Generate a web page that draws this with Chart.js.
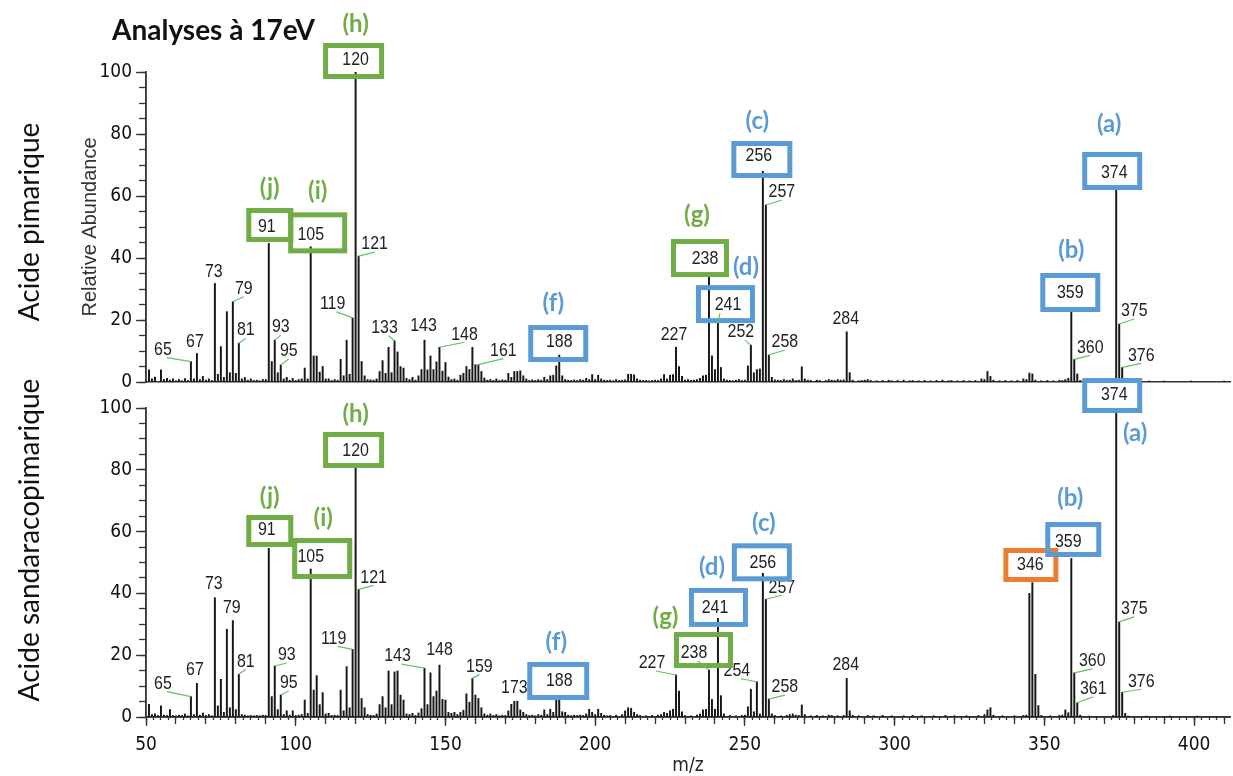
<!DOCTYPE html>
<html>
<head>
<meta charset="utf-8">
<title>Analyses à 17eV</title>
<script src="https://cdn.jsdelivr.net/npm/chart.js@4.4.1/dist/chart.umd.min.js"></script>
<style>
  html, body { margin: 0; padding: 0; background: #fff; }
  #wrap { position: relative; width: 1233px; height: 776px; }
  #wrap canvas { position: absolute; left: 0; top: 0; }
</style>
</head>
<body>
<div id="wrap">
  <canvas id="topChart" width="1233" height="400"></canvas>
  <canvas id="bottomChart" width="1233" height="776"></canvas>
</div>
<script>
// [m/z, relative abundance]
const pimarique = [
  [51,3.9],[52,1.0],[53,1.6],[55,3.9],[56,0.8],[57,1.2],[58,0.6],[59,1.0],[60,0.4],[61,0.8],
  [62,0.4],[63,1.1],[64,0.5],[65,6.6],[66,1.0],[67,9.2],[68,0.8],[69,1.8],[70,0.6],[71,1.0],
  [72,0.5],[73,31.8],[74,2.5],[75,11.4],[76,1.5],[77,22.7],[78,3.0],[79,25.9],[80,2.8],[81,12.5],
  [82,1.0],[83,1.5],[84,0.6],[85,1.0],[86,0.5],[87,0.6],[88,0.4],[89,0.8],[90,0.8],[91,44.7],
  [92,6.6],[93,13.5],[94,3.0],[95,5.5],[96,1.0],[97,1.5],[98,0.6],[99,1.2],[100,0.5],[101,0.8],
  [102,1.0],[103,4.5],[104,1.0],[105,43.6],[106,8.4],[107,8.4],[108,3.2],[109,5.0],[110,1.0],[111,1.0],
  [112,0.5],[113,0.8],[114,0.6],[115,7.3],[116,2.0],[117,13.5],[118,2.5],[119,20.7],[120,100],[121,40.6],
  [122,6.6],[123,2.0],[124,0.8],[125,0.7],[126,0.6],[127,1.0],[128,3.4],[129,6.9],[130,2.8],[131,11.2],
  [132,3.0],[133,13.3],[134,9.7],[135,5.0],[136,4.5],[137,1.2],[138,0.8],[139,1.5],[140,0.6],[141,2.0],
  [142,4.0],[143,13.5],[144,3.9],[145,8.4],[146,4.0],[147,6.5],[148,11.2],[149,3.5],[150,6.3],[151,1.6],
  [152,0.8],[153,1.0],[154,0.6],[155,2.2],[156,2.8],[157,5.0],[158,4.0],[159,11.2],[160,5.6],[161,5.6],
  [162,3.4],[163,1.3],[164,0.6],[165,0.8],[166,0.5],[167,1.0],[168,0.5],[169,0.7],[170,0.6],[171,2.8],
  [172,1.5],[173,3.4],[174,3.4],[175,3.6],[176,2.0],[177,1.0],[178,0.5],[179,0.7],[180,0.5],[181,0.8],
  [182,0.6],[183,1.5],[184,0.8],[185,2.0],[186,2.2],[187,5.2],[188,8.7],[189,2.0],[190,0.8],[191,0.6],
  [192,0.5],[193,0.7],[194,0.5],[195,0.8],[196,0.6],[197,1.2],[198,0.8],[199,2.4],[200,0.8],[201,2.2],
  [202,1.0],[203,0.6],[204,0.5],[205,0.6],[206,0.4],[207,0.8],[208,0.5],[209,0.6],[210,0.7],[211,2.5],
  [212,2.5],[213,2.3],[214,1.0],[215,0.6],[216,0.5],[217,0.5],[218,0.4],[219,0.5],[220,0.6],[221,0.5],
  [222,1.0],[223,2.4],[224,1.0],[225,2.2],[226,2.4],[227,11.2],[228,5.0],[229,1.8],[230,0.6],[231,0.8],
  [232,0.5],[233,0.6],[234,0.8],[235,1.2],[236,2.0],[237,2.2],[238,34.5],[239,8.4],[240,4.0],[241,19],
  [242,4.7],[243,1.0],[244,0.6],[245,0.5],[246,0.4],[247,0.6],[248,0.8],[249,0.5],[250,0.6],[251,5.2],
  [252,11.9],[253,3.0],[254,4.0],[255,4.2],[256,68],[257,57.1],[258,8.7],[259,1.5],[260,0.7],[261,0.6],
  [262,0.5],[263,0.8],[264,0.5],[265,0.6],[266,1.0],[267,0.5],[268,0.6],[269,4.9],[270,1.0],[271,0.6],
  [272,0.5],[274,0.6],[275,0.5],[277,0.5],[278,0.8],[279,0.6],[280,0.5],[281,0.8],[282,0.6],[283,0.7],
  [284,16.2],[285,3.0],[286,0.6],[288,0.4],[289,0.5],[290,0.6],[291,0.8],[292,0.5],[294,0.4],[296,0.5],
  [298,0.6],[299,0.4],[301,0.5],[303,0.6],[305,0.4],[306,0.5],[308,0.4],[310,0.5],[312,0.4],[314,0.5],
  [316,0.6],[318,0.4],[319,0.5],[321,0.4],[323,0.5],[325,0.4],[327,0.5],[329,1.0],[330,0.8],[331,3.4],
  [332,1.8],[333,0.6],[335,0.4],[337,0.5],[339,0.4],[341,0.5],[343,1.0],[344,0.8],[345,2.9],[346,2.6],
  [347,0.6],[349,0.4],[351,0.5],[353,0.4],[355,0.6],[356,0.5],[357,0.8],[358,1.2],[359,23],[360,7.3],
  [361,2.6],[362,0.5],[364,0.3],[373,0.6],[374,62],[375,18.7],[376,4.7],[377,1.2],[378,0.4],[385,0.3],
  [390,0.3],[399,0.3],[410,0.3]
];

const sandaracopimarique = [
  [51,4.1],[52,0.8],[53,1.0],[54,0.5],[55,3.6],[56,0.6],[57,0.5],[58,2.4],[59,0.5],[60,0.4],
  [61,0.6],[62,0.5],[63,1.0],[64,0.4],[65,6.6],[66,0.8],[67,10.9],[68,0.6],[69,1.3],[70,0.5],
  [71,0.8],[72,0.4],[73,38.6],[74,3.6],[75,12.2],[76,1.5],[77,28.4],[78,3.0],[79,31.2],[80,2.4],
  [81,13.8],[82,0.8],[83,0.6],[84,0.4],[85,0.5],[86,0.4],[87,0.5],[88,0.4],[89,0.6],[90,0.5],
  [91,54.6],[92,6.6],[93,16.5],[94,2.4],[95,7.1],[96,0.8],[97,2.0],[98,0.6],[99,2.0],[100,0.5],
  [101,0.6],[102,0.8],[103,5.5],[104,1.2],[105,47.9],[106,8.7],[107,13.4],[108,4.0],[109,7.9],[110,1.0],
  [111,1.2],[112,0.5],[113,0.6],[114,0.5],[115,8.7],[116,2.0],[117,16.3],[118,3.0],[119,21.9],[120,81],
  [121,41.3],[122,6.0],[123,3.0],[124,0.8],[125,0.6],[126,0.5],[127,1.0],[128,4.0],[129,6.6],[130,3.0],
  [131,14.9],[132,4.0],[133,14.6],[134,14.9],[135,7.1],[136,5.5],[137,1.0],[138,0.8],[139,1.2],[140,0.5],
  [141,1.3],[142,2.7],[143,15.8],[144,4.0],[145,14.3],[146,6.6],[147,8.4],[148,16.8],[149,5.7],[150,5.5],
  [151,1.5],[152,1.2],[153,1.5],[154,0.8],[155,1.5],[156,2.2],[157,7.5],[158,4.8],[159,12.5],[160,7.1],
  [161,6.0],[162,3.0],[163,1.0],[164,0.6],[165,1.0],[166,0.5],[167,0.8],[168,0.4],[169,0.6],[170,0.5],
  [171,2.0],[172,4.1],[173,5.1],[174,5.1],[175,2.3],[176,1.5],[177,0.8],[178,0.5],[179,0.6],[180,0.4],
  [181,0.8],[182,0.6],[183,2.3],[184,0.8],[185,2.5],[186,1.5],[187,5.5],[188,6.0],[189,1.7],[190,1.5],
  [191,0.6],[192,0.4],[193,0.6],[194,0.5],[195,0.6],[196,0.5],[197,1.0],[198,2.5],[199,1.5],[200,0.8],
  [201,2.5],[202,1.2],[203,0.6],[204,0.4],[205,0.5],[207,0.6],[209,0.8],[210,2.0],[211,3.0],[212,2.8],
  [213,1.5],[214,0.8],[215,0.5],[217,0.4],[219,0.5],[221,0.6],[222,0.8],[223,1.5],[224,1.2],[225,2.0],
  [226,2.5],[227,13.6],[228,8.4],[229,1.7],[230,0.5],[232,0.4],[234,0.6],[235,1.0],[236,2.3],[237,2.5],
  [238,15.2],[239,5.7],[240,2.5],[241,31.9],[242,6.9],[243,1.0],[245,0.5],[247,0.4],[249,0.5],[250,0.6],
  [251,3.3],[252,9.0],[253,1.7],[254,11.4],[255,1.0],[256,46.5],[257,38.1],[258,5.8],[259,1.0],[260,0.5],
  [262,0.4],[264,0.5],[265,0.8],[266,1.0],[267,0.6],[268,0.5],[269,3.9],[270,0.8],[272,0.4],[274,0.5],
  [276,0.4],[278,0.6],[279,0.5],[281,0.4],[283,0.5],[284,12.5],[285,2.0],[286,0.5],[288,0.4],[291,0.5],
  [293,0.4],[296,0.5],[299,0.4],[303,0.4],[306,0.5],[309,0.4],[313,0.4],[317,0.5],[320,0.4],[324,0.4],
  [328,0.5],[330,0.8],[331,2.3],[332,3.0],[333,0.6],[336,0.4],[340,0.4],[343,0.5],[344,0.6],[345,40.0],
  [346,43.5],[347,13.8],[348,3.7],[349,0.5],[352,0.4],[355,0.5],[356,0.6],[357,2.3],[358,1.4],[359,51.3],
  [360,14.3],[361,4.6],[362,0.6],[365,0.3],[373,0.5],[374,100],[375,30.8],[376,8.0],[377,1.2],[378,0.3],
  [384,0.3],[392,0.3],[401,0.3]
];

// axis limits and tick steps
const mzRange = [50, 412];
const abundanceRange = [0, 100];
const mzLabelStep = 50, mzMidStep = 10, mzMinorStep = 2.5;
const abLabelStep = 20, abMinorStep = 5;

// peak labels: [m/z, offset x, offset y, leader line]
const topLabels = [
  [65,-28,-12,1],[67,-2,-12,0],[73,-1,-12,0],[79,11,-13,1],[81,7,-13,1],[93,6,-13,1],[95,8,-14,1],
  [119,-20,-14,1],[121,16,-12,1],[133,-10,-13,1],[143,-1,-14,0],[148,25,-13,1],[161,25,-14,1],
  [227,-2,-13,0],[252,-10,-13,1],[257,16,-13,1],[258,16,-13,1],[284,-1,-13,0],[360,16,-12,1],
  [375,15,-13,1],[376,19,-12,1]
];
const bottomLabels = [
  [65,-28,-13,1],[67,-2,-14,0],[73,-1,-14,0],[79,-1,-13,0],[81,7,-13,1],[93,12,-11,1],[95,8,-12,1],
  [119,-19,-11,1],[121,15,-12,1],[143,-27,-12,1],[148,0,-15,0],[159,7,-12,1],[173,0,-13,0],
  [227,-24,-12,1],[254,-20,-11,1],[257,16,-12,1],[258,16,-12,1],[284,-1,-14,0],[360,18,-12,1],
  [361,16,-14,1],[375,15,-13,1],[376,19,-11,1]
];

const GREEN = '#70ad47', BLUE = '#5b9bd5', ORANGE = '#ed7d31';
const LEAD = '#5ec45e', INK = '#161616';
const NARROW = "'Liberation Sans Narrow', 'Arial Narrow', 'DejaVu Sans Condensed', sans-serif";

// highlighted peaks: box centre (bx, by) and text (tx, ty) relative to the peak top, letter relative to box
const topBoxes = [
  { mz: 120, color: GREEN, letter: '(h)', bx: -2, by: -11, bw: 61, bh: 36, tx: 0, ty: -12, lx: 2, ly: -37 },
  { mz: 91, color: GREEN, letter: '(j)', bx: 1, by: -18.4, bw: 47, bh: 34, tx: -2, ty: -16.4, lx: 0, ly: -37 },
  { mz: 105, color: GREEN, letter: '(i)', bx: 7, by: -14, bw: 59, bh: 41, tx: 0, ty: -12, lx: 0, ly: -42 },
  { mz: 188, color: BLUE, letter: '(f)', bx: -1, by: -11.5, bw: 60, bh: 37, tx: 0, ty: -13, lx: -5, ly: -40 },
  { mz: 238, color: GREEN, letter: '(g)', bx: -9, by: -17, bw: 58, bh: 38, tx: -4, ty: -16, lx: -3, ly: -43 },
  { mz: 241, color: BLUE, letter: '(d)', bx: 7.5, by: -19, bw: 59, bh: 38, tx: 10, ty: -18, lx: 20.5, ly: -37, lead: true },
  { mz: 256, color: BLUE, letter: '(c)', bx: -1, by: -11.7, bw: 61, bh: 37, tx: -4, ty: -15, lx: -4.5, ly: -38.5 },
  { mz: 359, color: BLUE, letter: '(b)', bx: -1, by: -18.2, bw: 60, bh: 39, tx: -1, ty: -17.7, lx: 1, ly: -42.5 },
  { mz: 374, color: BLUE, letter: '(a)', bx: -4, by: -18.8, bw: 60, bh: 38, tx: -2, ty: -16.8, lx: -3, ly: -47 }
];
const bottomBoxes = [
  { mz: 120, color: GREEN, letter: '(h)', bx: -2, by: -16.7, bw: 61, bh: 36, tx: 0, ty: -15.7, lx: 2, ly: -36 },
  { mz: 91, color: GREEN, letter: '(j)', bx: 1, by: -17.3, bw: 47, bh: 32, tx: -2, ty: -18.3, lx: 0, ly: -34 },
  { mz: 105, color: GREEN, letter: '(i)', bx: 11.5, by: -10.5, bw: 60, bh: 41, tx: 0, ty: -12, lx: 1, ly: -40 },
  { mz: 188, color: BLUE, letter: '(f)', bx: -1, by: -17.5, bw: 62, bh: 38, tx: 0, ty: -17.5, lx: -2, ly: -39 },
  { mz: 238, color: GREEN, letter: '(g)', bx: -5.5, by: -20, bw: 59, bh: 36, tx: -15, ty: -17, lx: -38, ly: -33, lead: true },
  { mz: 241, color: BLUE, letter: '(d)', bx: 0.5, by: -11, bw: 59, bh: 39, tx: -3, ty: -11, lx: -6.5, ly: -40.5 },
  { mz: 256, color: BLUE, letter: '(c)', bx: -1, by: -11, bw: 60, bh: 38, tx: 0, ty: -11, lx: 2, ly: -39 },
  { mz: 346, color: ORANGE, letter: '', bx: -1.5, by: -17.6, bw: 55, bh: 34, tx: -2, ty: -17.6, lx: 0, ly: 0 },
  { mz: 359, color: BLUE, letter: '(b)', bx: 2, by: -19, bw: 56, bh: 35, tx: -3, ty: -16.8, lx: -3, ly: -41.5 },
  { mz: 374, color: BLUE, letter: '(a)', bx: -4, by: -12.5, bw: 60, bh: 35, tx: -2, ty: -13, lx: 23, ly: 37.5, fill: true }
];

// peak numbers: Arial metrics squeezed to look like the narrow instrument font
function drawNumber(ctx, text, x, y) {
  ctx.save();
  ctx.translate(x, y);
  ctx.scale(0.84, 1);
  ctx.font = "19px 'Liberation Sans', Arial, sans-serif";
  ctx.fillStyle = '#222';
  ctx.textAlign = 'center';
  ctx.textBaseline = 'middle';
  ctx.fillText(text, 0, 0);
  ctx.restore();
}

// draws peak numbers, coloured boxes and free text over a chart
function makeNotes(cfg) {
  return {
    id: 'peakNotes',
    afterDraw(chart) {
      const ctx = chart.ctx;
      const xs = chart.scales.x, ys = chart.scales.y;
      const lookup = new Map(cfg.peaks);
      const top = mz => ({ x: xs.getPixelForValue(mz), y: ys.getPixelForValue(lookup.get(mz) || 0) });
      ctx.save();
      ctx.textAlign = 'center';
      ctx.textBaseline = 'middle';

      const leader = (x1, y1, x2, y2) => {
        ctx.strokeStyle = LEAD;
        ctx.lineWidth = 1.2;
        ctx.beginPath();
        ctx.moveTo(x1, y1);
        ctx.lineTo(x2, y2);
        ctx.stroke();
      };

      cfg.labels.forEach(([mz, dx, dy, lead]) => {
        const p = top(mz);
        const lx = p.x + dx, ly = p.y + dy;
        if (lead) leader(p.x, p.y, lx + (dx < 0 ? 4 : 0), ly + 8);
        drawNumber(ctx, String(mz), lx, ly);
      });

      cfg.boxes.forEach(b => {
        const p = top(b.mz);
        const cx = p.x + b.bx, cy = p.y + b.by;
        const w = b.bw - 5, h = b.bh - 5;
        if (b.fill) {
          ctx.fillStyle = '#fff';
          ctx.fillRect(cx - w / 2, cy - h / 2, w, h);
        }
        ctx.lineWidth = 5;
        ctx.strokeStyle = b.color;
        ctx.strokeRect(cx - w / 2, cy - h / 2, w, h);
        if (b.lead) leader(p.x, p.y, p.x + b.tx + (b.tx < 0 ? 4 : -8), p.y + b.ty + 8);
        drawNumber(ctx, String(b.mz), p.x + b.tx, p.y + b.ty);
        if (b.letter) {
          ctx.font = 'bold 24px Lato';
          ctx.fillStyle = b.color;
          ctx.textAlign = 'center';
          ctx.fillText(b.letter, cx + b.lx, cy + b.ly);
        }
      });

      (cfg.texts || []).forEach(t => {
        ctx.save();
        ctx.translate(t.x, t.y);
        ctx.rotate(t.rot || 0);
        ctx.font = t.font;
        ctx.fillStyle = '#111';
        ctx.textAlign = t.align || 'center';
        ctx.fillText(t.text, 0, 0);
        ctx.restore();
      });
      ctx.restore();
    }
  };
}

const tickFont = { family: NARROW, size: 19 };

function yScales(withTitle) {
  return {
    y: {
      position: 'left', weight: 1,
      min: abundanceRange[0], max: abundanceRange[1],
      afterFit: s => { s.width = 72; },
      ticks: { stepSize: abLabelStep, font: tickFont, color: '#111', padding: 4 },
      grid: { drawOnChartArea: false, tickLength: 10, tickColor: '#333', tickWidth: 1.3 },
      border: { color: '#333', width: 1.6 },
      title: {
        display: withTitle, text: 'Relative Abundance', color: '#333',
        font: { family: "'Liberation Sans', Arial, sans-serif", size: 20 },
        padding: { top: 4, bottom: 0 }
      }
    },
    yMinor: {
      position: 'left', weight: 0,
      min: abundanceRange[0], max: abundanceRange[1],
      afterFit: s => { s.width = 0; },
      ticks: { display: false, stepSize: abMinorStep },
      grid: { drawOnChartArea: false, tickLength: 7, tickColor: '#333', tickWidth: 1.3 },
      border: { color: '#333', width: 1.6 }
    }
  };
}

function barData(list) {
  return {
    datasets: [{
      data: list.map(([mz, ab]) => ({ x: mz, y: ab })),
      backgroundColor: INK,
      borderWidth: 0,
      barThickness: 1.3,
      grouped: false
    }]
  };
}

const common = {
  responsive: false,
  animation: false,
  events: [],
  plugins: { legend: { display: false }, tooltip: { enabled: false } }
};

// upper spectrum: acide pimarique
new Chart(document.getElementById('topChart'), {
  type: 'bar',
  data: barData(pimarique),
  options: {
    ...common,
    layout: { padding: { top: 72, left: 74, right: 3, bottom: 0 } },
    scales: {
      x: {
        type: 'linear', position: 'bottom', offset: false,
        min: mzRange[0], max: mzRange[1],
        afterFit: s => { s.height = 18; },
        ticks: { display: false, stepSize: mzLabelStep },
        grid: { offset: false, drawOnChartArea: false, drawTicks: false },
        border: { color: '#333', width: 1.6 }
      },
      ...yScales(true)
    }
  },
  plugins: [makeNotes({
    peaks: pimarique, labels: topLabels, boxes: topBoxes,
    texts: [
      { text: 'Analyses à 17eV', x: 112, y: 31, font: 'bold 28px Lato', align: 'left' },
      { text: 'Acide pimarique', x: 30, y: 222, rot: -Math.PI / 2, font: '28px Lato' }
    ]
  })]
});

// lower spectrum: acide sandaracopimarique
new Chart(document.getElementById('bottomChart'), {
  type: 'bar',
  data: barData(sandaracopimarique),
  options: {
    ...common,
    layout: { padding: { top: 408, left: 74, right: 3, bottom: 0 } },
    scales: {
      x2: {
        type: 'linear', position: 'bottom', weight: 0, offset: false,
        min: mzRange[0], max: mzRange[1],
        afterFit: s => { s.height = 0; },
        ticks: { display: false, stepSize: mzMinorStep, includeBounds: false },
        grid: { offset: false, drawOnChartArea: false, tickLength: 3, tickColor: '#333', tickWidth: 1.3 },
        border: { color: '#333', width: 1.6 }
      },
      x10: {
        type: 'linear', position: 'bottom', weight: 1, offset: false,
        min: mzRange[0], max: mzRange[1],
        afterFit: s => { s.height = 0; },
        ticks: { display: false, stepSize: mzMidStep, includeBounds: false },
        grid: { offset: false, drawOnChartArea: false, tickLength: 7, tickColor: '#333', tickWidth: 1.3 },
        border: { color: '#333', width: 1.6 }
      },
      x: {
        type: 'linear', position: 'bottom', weight: 2, offset: false,
        min: mzRange[0], max: mzRange[1],
        afterFit: s => { s.height = 59; },
        ticks: { stepSize: mzLabelStep, includeBounds: false, font: tickFont, color: '#111', padding: 8, maxRotation: 0, autoSkip: false },
        grid: { offset: false, drawOnChartArea: false, tickLength: 9, tickColor: '#333', tickWidth: 1.3 },
        border: { color: '#333', width: 1.6 },
        title: {
          display: true, text: 'm/z', color: '#222',
          font: { family: NARROW, size: 19, lineHeight: 1 },
          padding: { top: 0, bottom: 0 }
        }
      },
      ...yScales(false)
    }
  },
  plugins: [makeNotes({
    peaks: sandaracopimarique, labels: bottomLabels, boxes: bottomBoxes,
    texts: [
      { text: 'Acide sandaracopimarique', x: 30, y: 540, rot: -Math.PI / 2, font: '28px Lato' }
    ]
  })]
});
</script>
</body>
</html>
